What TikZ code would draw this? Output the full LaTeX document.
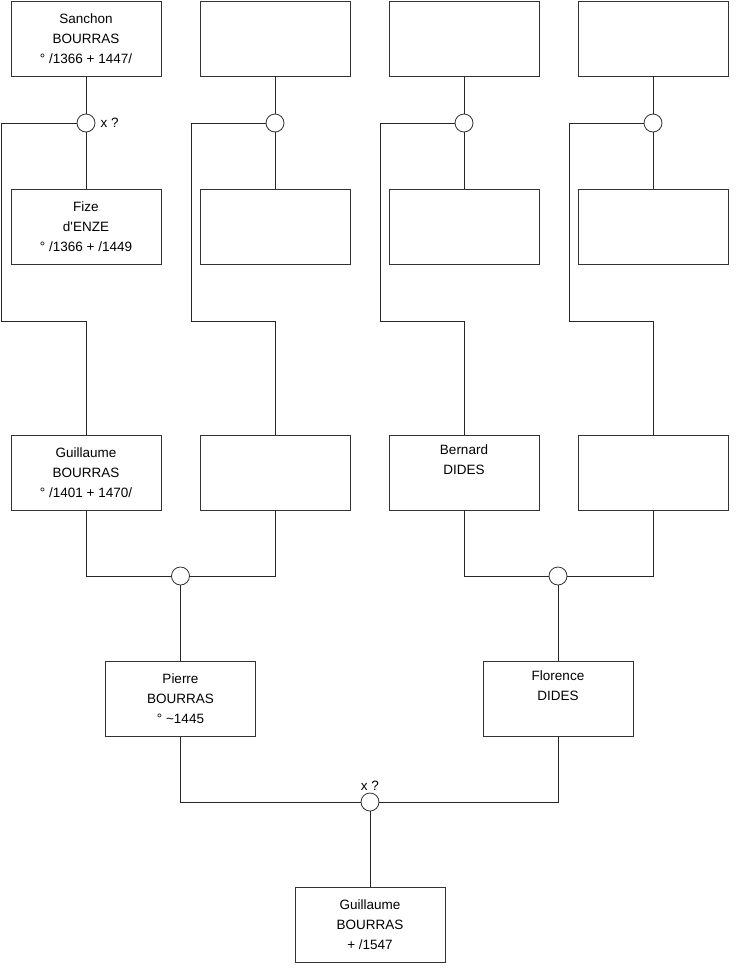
\documentclass[tikz,border=0pt]{standalone}
\usepackage{fontspec}
\setmainfont{Liberation Sans}
\usepackage{tikz}
\usetikzlibrary{positioning}

\begin{document}
\begin{tikzpicture}[
    x=1pt, y=-1pt,
    person/.style={rectangle, draw=black!80, line width=0.8pt, fill=white, minimum width=150pt, minimum height=75pt, align=center, font=\fontsize{13.5}{20}\selectfont, inner sep=0pt},
    union/.style={circle, draw=black!80, line width=0.8pt, fill=white, minimum size=18pt, inner sep=0pt},
    link/.style={black!85, line width=0.8pt},
    note/.style={font=\fontsize{13.5}{15}\selectfont, inner sep=2pt}
]
    \useasboundingbox (0,0) rectangle (740,975);

    % top row
    \node[person] (s1) at (86,38.5) {Sanchon\\BOURRAS\\° /1366 + 1447/};
    \node[person] (s2) at (275,38.5) {};
    \node[person] (s3) at (464,38.5) {};
    \node[person] (s4) at (653,38.5) {};

    \node[union] (m1) at (86,123) {};
    \node[union] (m2) at (275,123) {};
    \node[union] (m3) at (464,123) {};
    \node[union] (m4) at (653,123) {};
    \node[note, right=3pt of m1] (x1) {x ?};

    \node[person] (f1) at (86,227) {Fize\\d\textquotesingle ENZE\\° /1366 + /1449};
    \node[person] (f2) at (275,227) {};
    \node[person] (f3) at (464,227) {};
    \node[person] (f4) at (653,227) {};

    \node[person] (g1) at (86,472.5) {Guillaume\\BOURRAS\\° /1401 + 1470/};
    \node[person] (g2) at (275,472.5) {};
    \node[person] (g3) at (464,472.5) {Bernard\\DIDES\\\strut};
    \node[person] (g4) at (653,472.5) {};

    \coordinate (k1) at (1,321);
    \coordinate (k2) at (191,321);
    \coordinate (k3) at (380,321);
    \coordinate (k4) at (569,321);

    \node[union] (u1) at (180.5,576) {};
    \node[union] (u2) at (558,576) {};

    \node[person] (p1) at (180.5,699) {Pierre\\BOURRAS\\° \textasciitilde1445};
    \node[person] (p2) at (558,699) {Florence\\DIDES\\\strut};

    \node[union] (u3) at (370,802) {};
    \node[note, above=0pt of u3] (x2) {x ?};

    \node[person] (c) at (370,925) {Guillaume\\BOURRAS\\+ /1547};

    % links
    \foreach \i in {1,2,3,4} {
        \draw[link] (s\i) -- (m\i);
        \draw[link] (m\i) -- (f\i);
        \draw[link] (m\i.west) -| (k\i) -| (g\i.north);
    }
    \draw[link] (g1.south) |- (u1.west);
    \draw[link] (g2.south) |- (u1.east);
    \draw[link] (g3.south) |- (u2.west);
    \draw[link] (g4.south) |- (u2.east);
    \draw[link] (u1) -- (p1);
    \draw[link] (u2) -- (p2);
    \draw[link] (p1.south) |- (u3.west);
    \draw[link] (p2.south) |- (u3.east);
    \draw[link] (u3) -- (c);
\end{tikzpicture}
\end{document}
